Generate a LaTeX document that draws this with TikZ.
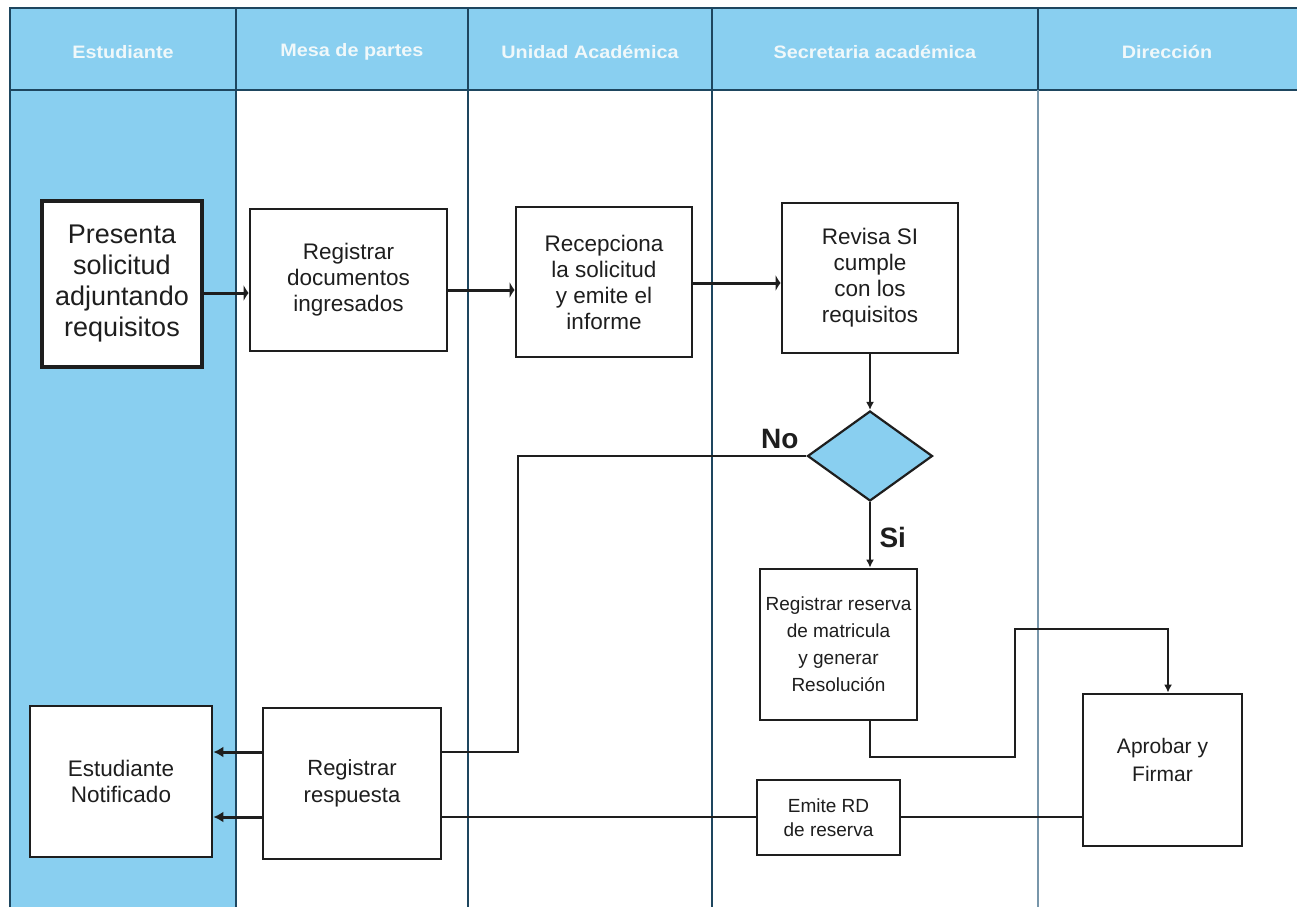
\documentclass[tikz,border=0pt]{standalone}
\usepackage{fontspec}
\setmainfont{Liberation Sans}
\newfontfamily\headfont[FakeStretch=1.1]{Liberation Sans}
\usetikzlibrary{arrows.meta,shapes.geometric}
\definecolor{lane}{RGB}{137,207,240}
\definecolor{laneline}{RGB}{30,70,95}
\definecolor{lanelight}{RGB}{120,150,170}
\definecolor{ink}{RGB}{30,30,30}
\definecolor{headtext}{RGB}{240,248,250}
\begin{document}
\begin{tikzpicture}[x=1pt,y=-1pt,
  lanerule/.style={laneline,line width=1.6pt},
  headlabel/.style={font=\headfont\fontsize{18}{20}\selectfont\bfseries,text=headtext},
  stepbox/.style={draw=ink,fill=white,line width=2.8pt,align=center,inner sep=2pt,
    font=\fontsize{22.5}{26}\selectfont,text=ink},
  decision/.style={diamond,draw=ink,fill=lane,line width=2.2pt,inner sep=0pt,
    minimum width=125pt,minimum height=90pt},
  flow/.style={draw=ink,line width=3pt},
  thin/.style={draw=ink,line width=2.4pt},
  bartip/.style={-{Latex[length=5pt,width=17pt]}},
  smalltip/.style={-{Latex[length=8pt,width=8pt]}},
  edgelabel/.style={font=\fontsize{28}{30}\selectfont\bfseries,text=ink}
]
\useasboundingbox (0,0) rectangle (1297,907);
\fill[white] (0,0) rectangle (1297,907);
% lanes
\fill[lane] (10,8) rectangle (236,907);
\fill[lane] (10,8) rectangle (1297,90);
\draw[lanerule] (10,907) -- (10,8) -- (1297,8);
\draw[lanerule] (10,90) -- (1297,90);
\draw[lanerule] (236,8) -- (236,907);
\draw[lanerule] (468,8) -- (468,907);
\draw[lanerule] (712,8) -- (712,907);
\draw[lanerule] (1038,8) -- (1038,90);
\draw[lanelight,line width=1.6pt] (1038,90) -- (1038,907);
% header labels
\node[headlabel] (h1) at (123,52) {Estudiante};
\node[headlabel] (h2) at (352,52) {Mesa de partes};
\node[headlabel] (h3) at (590,52) {Unidad Académica};
\node[headlabel] (h4) at (875,52) {Secretaria académica};
\node[headlabel] (h5) at (1167,52) {Dirección};
% nodes
\node[stepbox,line width=3.2pt,minimum width=160pt,minimum height=166pt,
  font=\fontsize{27}{31}\selectfont] (pres) at (122,284)
  {Presenta\\solicitud\\adjuntando\\requisitos};
\node[stepbox,minimum width=197pt,minimum height=142pt] (regdoc) at (348.5,280)
  {Registrar\\documentos\\ingresados};
\node[stepbox,minimum width=176pt,minimum height=150pt] (recep) at (604,282)
  {Recepciona\\la solicitud\\y emite el\\informe};
\node[stepbox,minimum width=176pt,minimum height=150pt] (revisa) at (870,278)
  {Revisa SI\\cumple\\con los\\requisitos};
\node[decision] (dec) at (870,456) {};
\node[stepbox,minimum width=157pt,minimum height=151pt,
  font=\fontsize{19}{27}\selectfont] (regres) at (838.5,644.5)
  {Registrar reserva\\de matricula\\y generar\\Resolución};
\node[stepbox,minimum width=159pt,minimum height=152pt,
  font=\fontsize{21}{28}\selectfont,text depth=20pt] (aprob) at (1162.5,770)
  {Aprobar y\\Firmar};
\node[stepbox,minimum width=143pt,minimum height=75pt,
  font=\fontsize{19}{24}\selectfont] (emite) at (828.5,817.5)
  {Emite RD\\de reserva};
\node[stepbox,minimum width=178pt,minimum height=151pt,
  font=\fontsize{22}{27}\selectfont] (regresp) at (352,783.5)
  {Registrar\\respuesta};
\node[stepbox,minimum width=182pt,minimum height=151pt] (notif) at (121,781.5)
  {Estudiante\\Notificado};
% connectors
\draw[flow,bartip] (pres.east |- 0,293) -- (regdoc.west |- 0,293);
\draw[flow,bartip] (regdoc.east |- 0,290) -- (recep.west |- 0,290);
\draw[flow,bartip] (recep.east |- 0,283) -- (revisa.west |- 0,283);
\draw[thin,smalltip] (revisa.south) -- (dec.north);
\draw[thin] (dec.west) -- (518,456) -- (518,752) -- (regresp.east |- 0,752);
\node[edgelabel,anchor=south east] (nolbl) at (802,452) {No};
\draw[thin,smalltip] (dec.south) -- (dec.south |- regres.north);
\node[edgelabel,anchor=west] (silbl) at (876,537) {Si};
\coordinate (b1) at (870,757);
\coordinate (b2) at (1015,757);
\coordinate (b3) at (1015,629);
\coordinate (b4) at (1168,629);
\draw[thin,smalltip] (regres.south -| b1) -- (b1) -- (b2) -- (b3) -- (b4) -- (aprob.north -| b4);
\draw[thin] (aprob.west |- 0,817) -- (emite.east |- 0,817);
\draw[thin] (emite.west |- 0,817) -- (regresp.east |- 0,817);
\draw[flow,-{Latex[length=10pt,width=11pt]}] (regresp.west |- 0,752) -- (notif.east |- 0,752);
\draw[flow,-{Latex[length=10pt,width=11pt]}] (regresp.west |- 0,817) -- (notif.east |- 0,817);
\end{tikzpicture}
\end{document}
